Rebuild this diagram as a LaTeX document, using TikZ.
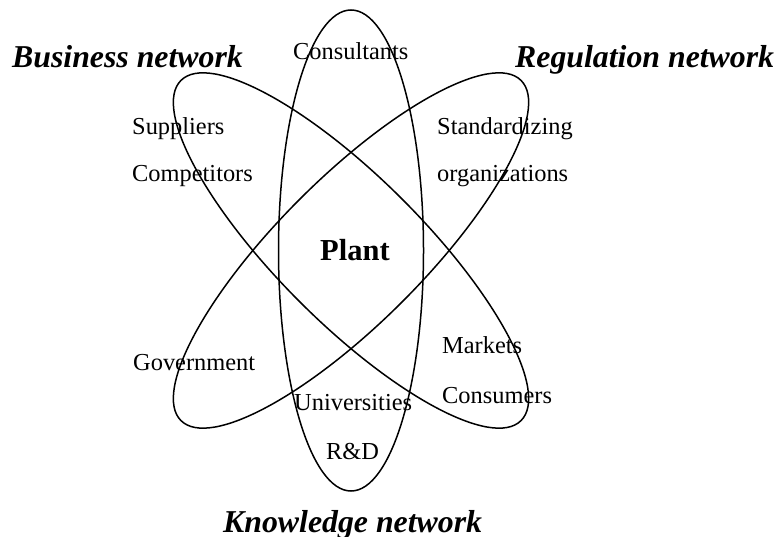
\documentclass[tikz,border=0pt]{standalone}
\usepackage{fontspec}
\setmainfont{Liberation Serif}
\begin{document}
\begin{tikzpicture}[x=1pt,y=-1pt,
  orbit/.style={draw=black,line width=1.5pt},
  member/.style={anchor=base west,inner sep=0pt,font=\fontsize{24.4}{28}\selectfont},
  network/.style={anchor=base west,inner sep=0pt,font=\fontsize{31.8}{36}\selectfont\bfseries\itshape},
  core/.style={anchor=base west,inner sep=0pt,font=\fontsize{30.5}{34}\selectfont\bfseries}]
\useasboundingbox (0,0) rectangle (776,537);
\coordinate (c) at (351,250.5);
% the three orbits
\draw[orbit] (c) ellipse [x radius=72.5pt, y radius=240.5pt];
\draw[orbit, rotate around={45:(c)}] (c) ellipse [x radius=72.5pt, y radius=240.5pt];
\draw[orbit, rotate around={-45:(c)}] (c) ellipse [x radius=72.5pt, y radius=240.5pt];
% network titles
\node[network] (bus) at (12,68) {Business network};
\node[network] (reg) at (515,68) {Regulation network};
\node[network] (know) at (223,532) {Knowledge network};
% centre
\node[core] (plant) at (320,261) {Plant};
% members
\node[member] (cons) at (293,60) {Consultants};
\node[member] (sup) at (132,135) {Suppliers};
\node[member] (comp) at (132,182) {Competitors};
\node[member] (std) at (437,135) {Standardizing};
\node[member] (org) at (437,182) {organizations};
\node[member] (gov) at (133,370) {Government};
\node[member] (mkt) at (442,353) {Markets};
\node[member] (csm) at (442,403) {Consumers};
\node[member] (uni) at (294,410) {Universities};
\node[member] (rd) at (326,459) {R\&D};
\end{tikzpicture}
\end{document}
